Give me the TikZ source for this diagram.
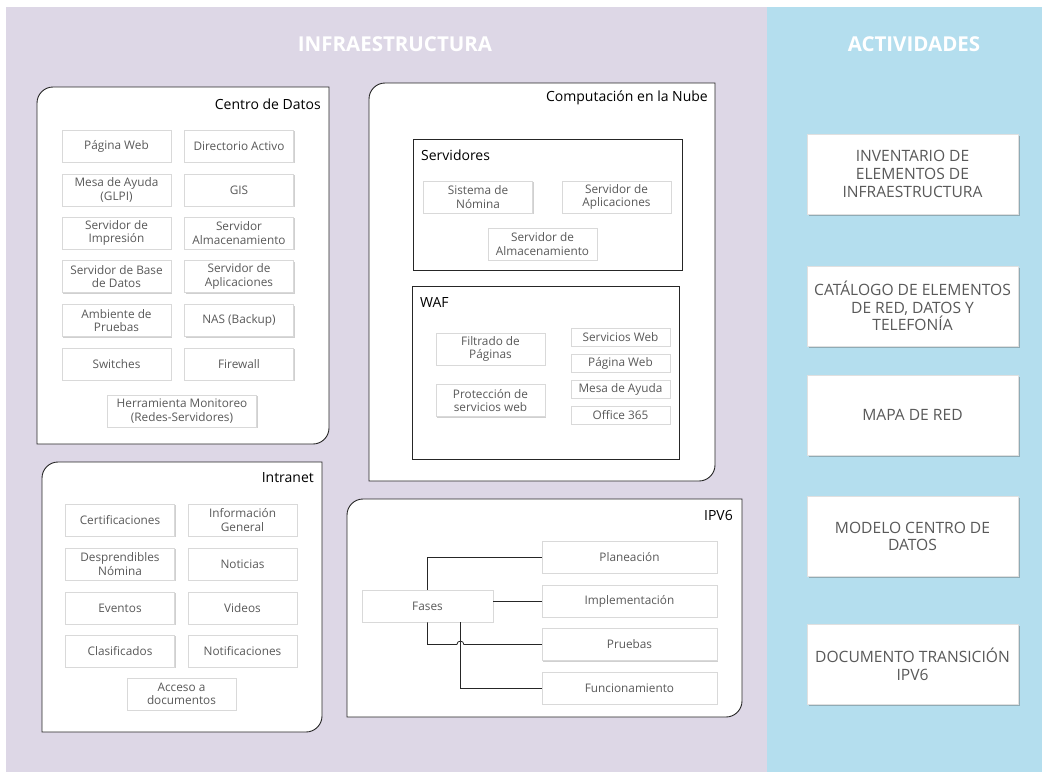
\documentclass[tikz,border=0pt]{standalone}
\usepackage{fontspec}
\setmainfont{Open Sans}
\usetikzlibrary{shadows,calc}
\definecolor{lav}{HTML}{DDD7E6}
\definecolor{sky}{HTML}{B4DEEE}
\definecolor{txtgray}{HTML}{595959}
\newcommand\rdbox[5]{%
  \filldraw[outerbox] (#1,#2+#5) .. controls (#1,#2+0.45*#5) and (#1+0.45*#5,#2) .. (#1+#5,#2)
   -- (#3,#2) -- (#3,#4-#5) .. controls (#3,#4-0.45*#5) and (#3-0.45*#5,#4) .. (#3-#5,#4)
   -- (#1,#4) -- cycle;}
\tikzset{
  outerbox/.style={draw=black!85, line width=0.9pt, fill=white},
  subbox/.style={draw=black!85, line width=0.9pt, fill=white},
  ib/.style={draw=black!15, line width=0.5pt, fill=white, align=center, text=txtgray,
    font=\fontsize{11.8}{13.2}\selectfont, inner sep=0pt,
    drop shadow={shadow xshift=1.2pt, shadow yshift=-1.2pt, opacity=0.3, fill=black!60}},
  cd/.style={ib, minimum width=109pt, minimum height=32pt},
  act/.style={draw=black!12, line width=0.5pt, fill=white, align=center, text=txtgray,
    font=\fontsize{15.6}{17.8}\selectfont, inner sep=0pt, minimum width=211pt, minimum height=80pt,
    drop shadow={shadow xshift=1.5pt, shadow yshift=-1.5pt, opacity=0.35, fill=black!70}},
  ttl/.style={font=\fontsize{14}{16}\selectfont, text=black, inner sep=0pt},
  hdr/.style={font=\fontsize{20.5}{24}\selectfont\bfseries, text=white, inner sep=0pt},
  conn/.style={draw=black!85, line width=0.8pt}
}
\begin{document}
\begin{tikzpicture}[x=1pt,y=-1pt]
\useasboundingbox (0,0) rectangle (1042,772);
\fill[white] (0,0) rectangle (1042,772);
\fill[lav] (6,7) rectangle (767,772);
\fill[sky] (767,7) rectangle (1042,772);

\node[hdr] (hinfra) at (395,44) {INFRAESTRUCTURA};
\node[hdr] (hact) at (914,44) {ACTIVIDADES};

% Centro de Datos
\rdbox{37}{87}{329}{444}{16}
\node[ttl, anchor=east] (tcd) at (321,104) {Centro de Datos};
\node[cd] (pw) at (116.5,146) {Página Web};
\node[cd] (da) at (239,146) {Directorio Activo};
\node[cd] (ma) at (116.5,190) {Mesa de Ayuda\\(GLPI)};
\node[cd] (gis) at (239,190) {GIS};
\node[cd] (si) at (116.5,233) {Servidor de\\Impresión};
\node[cd] (sa) at (239,233) {Servidor\\Almacenamiento};
\node[cd] (sbd) at (116.5,276.5) {Servidor de Base\\de Datos};
\node[cd] (sap) at (239,276.5) {Servidor de\\Aplicaciones};
\node[cd] (amb) at (116.5,320.5) {Ambiente de\\Pruebas};
\node[cd] (nas) at (239,320.5) {NAS (Backup)};
\node[cd] (sw) at (116.5,364) {Switches};
\node[cd] (fw) at (239,364) {Firewall};
\node[ib, minimum width=149pt, minimum height=32pt] (hm) at (182,411) {Herramienta Monitoreo\\(Redes-Servidores)};

% Computacion en la Nube
\rdbox{369}{83}{715}{481}{16}
\node[ttl, anchor=east] (tcn) at (708,98) {Computación en la Nube};
\filldraw[subbox] (413,139) rectangle (682,270);
\node[ttl, anchor=west] (tsv) at (421,155) {Servidores};
\node[cd] (sn) at (478,197) {Sistema de\\Nómina};
\node[cd] (sapn) at (616.5,197) {Servidor de\\Aplicaciones};
\node[cd] (san) at (542.5,244) {Servidor de\\Almacenamiento};
\filldraw[subbox] (412,286) rectangle (679,459);
\node[ttl, anchor=west] (twaf) at (420,302) {WAF};
\node[cd] (fp) at (490.5,349) {Filtrado de\\Páginas};
\node[cd] (psw) at (490.5,400.5) {Protección de\\servicios web};
\node[ib, minimum width=99pt, minimum height=18pt] (sweb) at (620.5,337) {Servicios Web};
\node[ib, minimum width=99pt, minimum height=18pt] (pwn) at (620.5,363) {Página Web};
\node[ib, minimum width=99pt, minimum height=18pt] (man) at (620.5,389) {Mesa de Ayuda};
\node[ib, minimum width=99pt, minimum height=18pt] (o365) at (620.5,415) {Office 365};

% Intranet
\rdbox{42}{462}{322}{732}{16}
\node[ttl, anchor=east] (tin) at (314,478) {Intranet};
\node[cd] (cert) at (120,520) {Certificaciones};
\node[cd] (ig) at (242.5,520) {Información\\General};
\node[cd] (dn) at (120,564) {Desprendibles\\Nómina};
\node[cd] (not) at (242.5,564) {Noticias};
\node[cd] (ev) at (120,608) {Eventos};
\node[cd] (vid) at (242.5,608) {Videos};
\node[cd] (cla) at (120,651) {Clasificados};
\node[cd] (ntf) at (242.5,651) {Notificaciones};
\node[cd] (acc) at (181.5,694) {Acceso a\\documentos};

% IPV6
\rdbox{347}{499}{742}{717}{16}
\node[ttl, anchor=east] (tip) at (733,515) {IPV6};
\node[ib, minimum width=131pt, minimum height=32pt] (fases) at (427.5,606) {Fases};
\node[ib, minimum width=175pt, minimum height=32pt] (plan) at (629.5,557) {Planeación};
\node[ib, minimum width=175pt, minimum height=32pt] (impl) at (629.5,601) {Implementación};
\node[ib, minimum width=175pt, minimum height=32pt] (prue) at (629.5,644.5) {Pruebas};
\node[ib, minimum width=175pt, minimum height=32pt] (func) at (629.5,688) {Funcionamiento};
\coordinate (fb) at ($(fases.south)!0.5!(fases.south east)$);
\draw[conn] (fases.north) |- (plan.west);
\draw[conn] (impl.west -| fases.east) -- (impl.west);
\draw[conn] (fases.south) -- (fases.south |- prue.west)
   -- ([xshift=-3.5pt]fb |- prue.west) .. controls +(0,4.5pt) and +(0,4.5pt) .. ([xshift=3.5pt]fb |- prue.west)
   -- (prue.west);
\draw[conn] (fb) |- (func.west);

% Actividades
\node[act] (a1) at (912.5,174) {INVENTARIO DE\\ELEMENTOS DE\\INFRAESTRUCTURA};
\node[act] (a2) at (912.5,306) {CATÁLOGO DE ELEMENTOS\\DE RED, DATOS Y\\TELEFONÍA};
\node[act] (a3) at (912.5,415) {MAPA DE RED};
\node[act] (a4) at (912.5,536.5) {MODELO CENTRO DE\\DATOS};
\node[act] (a5) at (912.5,664.5) {DOCUMENTO TRANSICIÓN\\IPV6};
\end{tikzpicture}
\end{document}
